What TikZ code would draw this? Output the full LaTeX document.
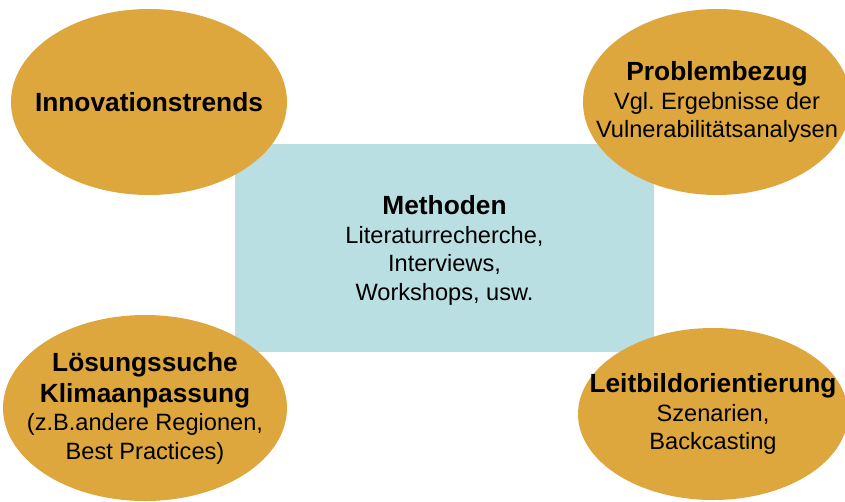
\documentclass[tikz,border=0pt]{standalone}
\usepackage{fontspec}
\setmainfont{Liberation Sans}
\usetikzlibrary{shapes.geometric}
\definecolor{gold}{RGB}{221,167,61}
\definecolor{paleblue}{RGB}{185,223,227}
\newcommand{\hd}[1]{{\fontsize{26.3}{28.5}\selectfont\bfseries #1}}
\frenchspacing
\begin{document}
\begin{tikzpicture}[x=1pt,y=-1pt,
  oval/.style={ellipse,fill=gold,draw=none,inner sep=0pt,outer sep=0pt},
  label text/.style={inner sep=0pt,align=center,font=\fontsize{23.6}{28.5}\selectfont},
  centerbox/.style={rectangle,fill=paleblue,draw=none,inner sep=0pt,
    minimum width=419pt,minimum height=208pt}]
\useasboundingbox (0,0) rectangle (845,501);
\clip (0,0) rectangle (845,501);
\node[centerbox] (meth) at (444.5,248) {};
\node[label text,yshift=-2.5pt] (metht) at (meth.center) {\hd{Methoden}\\Literaturrecherche,\\Interviews,\\Workshops, usw.};
\node[oval,minimum width=276pt,minimum height=186pt] (inno) at (149,102) {};
\node[label text] (innot) at (inno.center) {\hd{Innovationstrends}};
\node[oval,minimum width=268pt,minimum height=186pt] (prob) at (717,102) {};
\node[label text] (probt) at (prob.center) {\hd{Problembezug}\\Vgl. Ergebnisse der\\Vulnerabilitätsanalysen};
\node[oval,minimum width=284pt,minimum height=186pt] (loes) at (145,408) {};
\node[label text] (loest) at (loes.center) {\hd{Lösungssuche}\\[2.5pt]\hd{Klimaanpassung}\\(z.B.andere Regionen,\\Best Practices)};
\node[oval,minimum width=270pt,minimum height=172pt] (leit) at (713,414) {};
\node[label text] (leitt) at (leit.center) {\hd{Leitbildorientierung}\\Szenarien,\\Backcasting};
\end{tikzpicture}
\end{document}
